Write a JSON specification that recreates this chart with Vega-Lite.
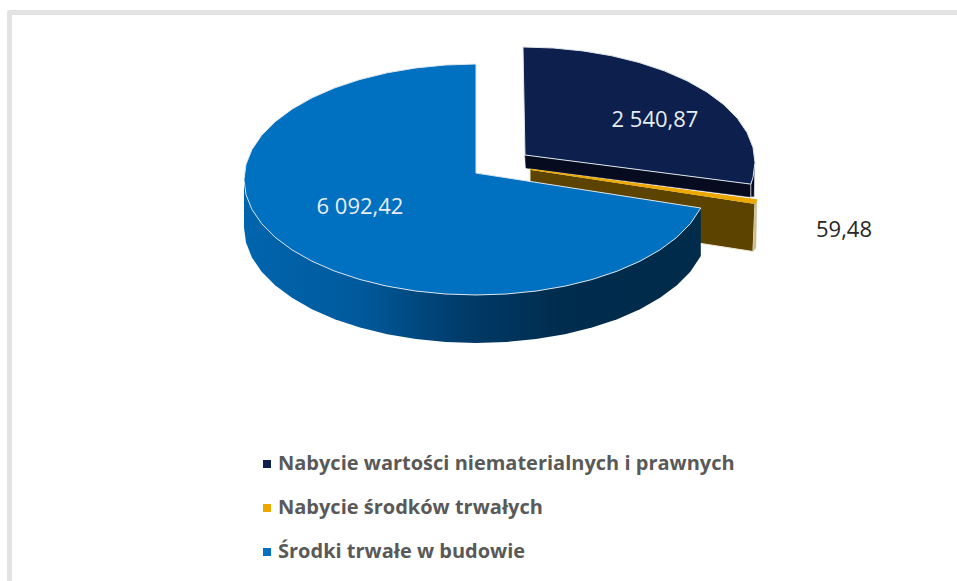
{"$schema":"https://vega.github.io/schema/vega-lite/v6.json","width":957,"height":581,"padding":0,"autosize":{"type":"none"},"background":"white","config":{"view":{"stroke":null}},
"datasets":{"slices":[
{"k":"A","slice":"Nabycie wartości niematerialnych i prawnych","value":2540.87,"label":"2 540,87","u":0.7716,"v":0.5152},
{"k":"B","slice":"Nabycie środków trwałych","value":59.48,"label":"59,48","u":1.5862,"v":-0.4372},
{"k":"C","slice":"Środki trwałe w budowie","value":6092.42,"label":"6 092,42","u":-0.5,"v":-0.2381}],
"outline":[
{"p":"frame","i":0,"u":2.0733,"v":1.4459},{"p":"frame","i":1,"u":-2.0108,"v":1.4459},{"p":"frame","i":2,"u":-2.0108,"v":-3.4762},
{"p":"navyWall","i":0,"u":0.2112,"v":0.2121},{"p":"navyWall","i":1,"u":1.1846,"v":-0.04},{"p":"navyWall","i":2,"u":1.1846,"v":-0.1515},{"p":"navyWall","i":3,"u":0.2155,"v":0.0996},
{"p":"navySide","i":0,"u":1.1846,"v":-0.04},{"p":"navySide","i":1,"u":1.2026,"v":0.1472},{"p":"navySide","i":2,"u":1.1996,"v":-0.1515},{"p":"navySide","i":3,"u":1.1846,"v":-0.1515},
{"p":"brown","i":0,"u":0.2328,"v":0.0883},{"p":"brown","i":1,"u":1.2026,"v":-0.2078},{"p":"brown","i":2,"u":1.194,"v":-0.6234},{"p":"brown","i":3,"u":0.2328,"v":-0.3247},
{"p":"tan","i":0,"u":1.2026,"v":-0.2078},{"p":"tan","i":1,"u":1.2112,"v":-0.1758},{"p":"tan","i":2,"u":1.2069,"v":-0.5931},{"p":"tan","i":3,"u":1.194,"v":-0.6234},
{"p":"blueWall","i":0,"u":-1,"v":0},{"p":"blueWall","i":1,"u":-1,"v":-0.4156},{"p":"blueWall","i":2,"u":-0.9914,"v":-0.5461},{"p":"blueWall","i":3,"u":-0.9659,"v":-0.6744},{"p":"blueWall","i":4,"u":-0.9239,"v":-0.7983},{"p":"blueWall","i":5,"u":-0.866,"v":-0.9156},{"p":"blueWall","i":6,"u":-0.7934,"v":-1.0244},{"p":"blueWall","i":7,"u":-0.7071,"v":-1.1227},{"p":"blueWall","i":8,"u":-0.6088,"v":-1.209},{"p":"blueWall","i":9,"u":-0.5,"v":-1.2816},{"p":"blueWall","i":10,"u":-0.3827,"v":-1.3395},{"p":"blueWall","i":11,"u":-0.2588,"v":-1.3815},{"p":"blueWall","i":12,"u":-0.1305,"v":-1.407},{"p":"blueWall","i":13,"u":0,"v":-1.4156},{"p":"blueWall","i":14,"u":0.1305,"v":-1.407},{"p":"blueWall","i":15,"u":0.2588,"v":-1.3815},{"p":"blueWall","i":16,"u":0.3827,"v":-1.3395},{"p":"blueWall","i":17,"u":0.5,"v":-1.2816},{"p":"blueWall","i":18,"u":0.6088,"v":-1.209},{"p":"blueWall","i":19,"u":0.7071,"v":-1.1227},{"p":"blueWall","i":20,"u":0.7934,"v":-1.0244},{"p":"blueWall","i":21,"u":0.866,"v":-0.9156},{"p":"blueWall","i":22,"u":0.9239,"v":-0.7983},{"p":"blueWall","i":23,"u":0.969,"v":-0.6626},{"p":"blueWall","i":24,"u":0.969,"v":-0.247},
{"p":"A","i":0,"u":0.2112,"v":0.2121},{"p":"A","i":1,"u":0.2026,"v":1.1472},{"p":"A","i":2,"u":0.3331,"v":1.1386},{"p":"A","i":3,"u":0.4614,"v":1.1131},{"p":"A","i":4,"u":0.5853,"v":1.0711},{"p":"A","i":5,"u":0.7026,"v":1.0132},{"p":"A","i":6,"u":0.8114,"v":0.9406},{"p":"A","i":7,"u":0.9097,"v":0.8543},{"p":"A","i":8,"u":0.996,"v":0.756},{"p":"A","i":9,"u":1.0686,"v":0.6472},{"p":"A","i":10,"u":1.1265,"v":0.5299},{"p":"A","i":11,"u":1.1685,"v":0.406},{"p":"A","i":12,"u":1.194,"v":0.2777},{"p":"A","i":13,"u":1.2026,"v":0.1472},{"p":"A","i":14,"u":1.194,"v":0.0167},{"p":"A","i":15,"u":1.1846,"v":-0.04},
{"p":"B","i":0,"u":0.2328,"v":0.0883},{"p":"B","i":1,"u":1.2112,"v":-0.1758},{"p":"B","i":2,"u":1.2026,"v":-0.2078},
{"p":"C","i":0,"u":0,"v":0.056},{"p":"C","i":1,"u":0,"v":1},{"p":"C","i":2,"u":-0.1305,"v":0.9914},{"p":"C","i":3,"u":-0.2588,"v":0.9659},{"p":"C","i":4,"u":-0.3827,"v":0.9239},{"p":"C","i":5,"u":-0.5,"v":0.866},{"p":"C","i":6,"u":-0.6088,"v":0.7934},{"p":"C","i":7,"u":-0.7071,"v":0.7071},{"p":"C","i":8,"u":-0.7934,"v":0.6088},{"p":"C","i":9,"u":-0.866,"v":0.5},{"p":"C","i":10,"u":-0.9239,"v":0.3827},{"p":"C","i":11,"u":-0.9659,"v":0.2588},{"p":"C","i":12,"u":-0.9914,"v":0.1305},{"p":"C","i":13,"u":-1,"v":0},{"p":"C","i":14,"u":-0.9914,"v":-0.1305},{"p":"C","i":15,"u":-0.9659,"v":-0.2588},{"p":"C","i":16,"u":-0.9239,"v":-0.3827},{"p":"C","i":17,"u":-0.866,"v":-0.5},{"p":"C","i":18,"u":-0.7934,"v":-0.6088},{"p":"C","i":19,"u":-0.7071,"v":-0.7071},{"p":"C","i":20,"u":-0.6088,"v":-0.7934},{"p":"C","i":21,"u":-0.5,"v":-0.866},{"p":"C","i":22,"u":-0.3827,"v":-0.9239},{"p":"C","i":23,"u":-0.2588,"v":-0.9659},{"p":"C","i":24,"u":-0.1305,"v":-0.9914},{"p":"C","i":25,"u":0,"v":-1},{"p":"C","i":26,"u":0.1305,"v":-0.9914},{"p":"C","i":27,"u":0.2588,"v":-0.9659},{"p":"C","i":28,"u":0.3827,"v":-0.9239},{"p":"C","i":29,"u":0.5,"v":-0.866},{"p":"C","i":30,"u":0.6088,"v":-0.7934},{"p":"C","i":31,"u":0.7071,"v":-0.7071},{"p":"C","i":32,"u":0.7934,"v":-0.6088},{"p":"C","i":33,"u":0.866,"v":-0.5},{"p":"C","i":34,"u":0.9239,"v":-0.3827},{"p":"C","i":35,"u":0.969,"v":-0.247}
]},
"data":{"name":"outline"},
"encoding":{"x":{"field":"u","type":"quantitative","axis":null,"scale":{"domain":[-2.0517,2.0733],"nice":false,"zero":false}},"y":{"field":"v","type":"quantitative","axis":null,"scale":{"domain":[-3.4762,1.5541],"nice":false,"zero":false}}},
"layer":[
{"transform":[{"filter":"datum.p==='frame'"}],"mark":{"type":"line","stroke":"#e3e3e3","strokeWidth":5,"strokeJoin":"round"},"encoding":{"order":{"field":"i"}}},
{"transform":[{"filter":"datum.p==='navyWall'"}],"mark":{"type":"line","interpolate":"linear-closed","fill":"#060b20","stroke":"#060b20","strokeWidth":0.5},"encoding":{"order":{"field":"i"}}},
{"transform":[{"filter":"datum.p==='navySide'"}],"mark":{"type":"line","interpolate":"linear-closed","fill":"#060b20","stroke":"#e4e6ea","strokeWidth":0.8},"encoding":{"order":{"field":"i"}}},
{"transform":[{"filter":"datum.p==='brown'"}],"mark":{"type":"line","interpolate":"linear-closed","fill":"#5c4300","stroke":"#efe8d4","strokeWidth":1},"encoding":{"order":{"field":"i"}}},
{"transform":[{"filter":"datum.p==='tan'"}],"mark":{"type":"line","interpolate":"linear-closed","fill":"#cbbd8f","stroke":"#cbbd8f","strokeWidth":0.3},"encoding":{"order":{"field":"i"}}},
{"transform":[{"filter":"datum.p==='blueWall'"}],"mark":{"type":"line","interpolate":"linear-closed","strokeWidth":0,"stroke":"#004a80","fill":{"gradient":"linear","x1":0,"y1":0,"x2":1,"y2":0,"stops":[{"offset":0,"color":"#0065ae"},{"offset":0.25,"color":"#005a9c"},{"offset":0.47,"color":"#003c6b"},{"offset":0.7,"color":"#002c4d"},{"offset":1,"color":"#002b4a"}]}},"encoding":{"order":{"field":"i"}}},
{"transform":[{"filter":"datum.p==='A'||datum.p==='C'||datum.p==='B'"},{"lookup":"p","from":{"data":{"name":"slices"},"key":"k","fields":["slice"]}}],
"mark":{"type":"line","interpolate":"linear-closed","strokeWidth":1},
"encoding":{"order":{"field":"i"},"stroke":{"condition":{"test":"datum.p==='B'","value":"#eda800"},"value":"#dfe7ee"},"fill":{"field":"slice","type":"nominal","scale":{"domain":["Nabycie wartości niematerialnych i prawnych","Nabycie środków trwałych","Środki trwałe w budowie"],"range":["#0d1f4c","#eda800","#0070c0"]},
"legend":{"title":null,"orient":"none","legendX":257,"legendY":454,"symbolType":"square","symbolSize":64,"symbolStrokeWidth":0,"labelFont":"Open Sans","labelFontWeight":"bold","labelFontSize":20,"labelColor":"#595959","labelOffset":1,"rowPadding":24,"labelLimit":600,"direction":"vertical"}}}},
{"data":{"name":"slices"},"transform":[{"filter":"datum.value>100"}],"mark":{"type":"text","font":"Open Sans","fontSize":22,"fill":"#e8edf3","align":"center","baseline":"middle"},"encoding":{"text":{"field":"label"}}},
{"data":{"name":"slices"},"transform":[{"filter":"datum.value<100"}],"mark":{"type":"text","font":"Open Sans","fontSize":22,"fill":"#262626","align":"center","baseline":"middle"},"encoding":{"text":{"field":"label"}}}
]}
